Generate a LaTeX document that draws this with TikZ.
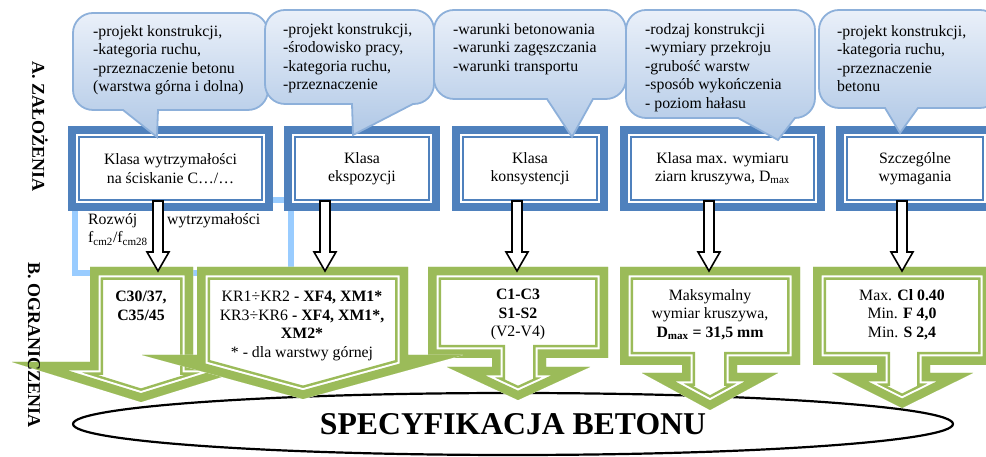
\documentclass[tikz,border=0pt]{standalone}
\usepackage{fontspec}
\setmainfont{Liberation Serif}
\usepackage{xcolor}
\usepackage{tikz}
\usetikzlibrary{positioning, calc, shapes.geometric}
\definecolor{blu}{RGB}{79, 129, 189}
\definecolor{grn}{RGB}{155, 187, 89}
\definecolor{sky}{RGB}{153, 204, 255}
\definecolor{bubtop}{RGB}{234, 240, 249}
\definecolor{bubbot}{RGB}{176, 200, 230}
\definecolor{bubline}{RGB}{141, 176, 218}
\newcommand{\bodysize}{\fontsize{15.8}{18.5}\selectfont}
% green down-arrow callout: thick outer line, white gap, thin inner line
\newcommand{\greencall}[1]{%
  \begin{scope}
    \clip #1;
    \fill[white] #1;
    \draw[grn, line width=26pt] #1;
    \draw[white, line width=21pt] #1;
    \draw[grn, line width=17pt] #1;
  \end{scope}}
% rounded speech bubble: x1, x2, bottom, top, pointer left, pointer right, tip x, tip y
\newcommand{\bubble}[8]{%
  \draw[bub] (#5,#3) -- (#1+20,#3) arc[start angle=270, end angle=180, radius=20]
    -- (#1,#4-20) arc[start angle=180, end angle=90, radius=20]
    -- (#2-20,#4) arc[start angle=90, end angle=0, radius=20]
    -- (#2,#3+20) arc[start angle=0, end angle=-90, radius=20]
    -- (#6,#3) -- (#7,#8) -- cycle;}

\begin{document}
\begin{tikzpicture}[
    x=1pt, y=1pt, font=\bodysize,
    bbox/.style={draw=blu, line width=8pt, fill=white, minimum height=77pt,
      align=center, inner sep=0pt},
    inline/.style={draw=blu, line width=2.4pt},
    bub/.style={draw=bubline, line width=1.8pt, top color=bubtop, bottom color=bubbot},
    btxt/.style={anchor=north west, align=left, inner sep=0pt},
    ctxt/.style={anchor=north, align=center, inner sep=0pt},
    barrow/.style={draw=black, line width=1.6pt, fill=white, line join=miter},
    side/.style={rotate=-90, font=\fontsize{18}{20}\selectfont\bfseries}
  ]
  \useasboundingbox (0,0) rectangle (986,457);

  % light frame behind the first class
  \draw[sky, line width=6pt] (74.5,256.5) rectangle (290.5,184);
  \node[anchor=north west, text width=172pt, align=left, inner sep=0pt] (rozw) at (88,244)
    {Rozwój\hfill wytrzymałości\\f\textsubscript{cm2}/f\textsubscript{cm28}};

  % A. classes
  \node[bbox, minimum width=197pt] (b1) at (170.5,288.5) {Klasa wytrzymałości\\na ściskanie C…/…};
  \node[bbox, minimum width=148pt, right=11pt of b1] (b2) {Klasa\\ekspozycji};
  \node[bbox, minimum width=148pt, right=12pt of b2] (b3) {Klasa\\konsystencji};
  \node[bbox, minimum width=197pt, right=12pt of b3] (b4) {Klasa max. wymiaru\\ziarn kruszywa, D\textsubscript{max}};
  \node[bbox, minimum width=150pt, right=11pt of b4] (b5) {Szczególne\\wymagania};
  \foreach \b in {b1,b2,b3,b4,b5}
    \draw[inline] ([shift={(11,-11)}]\b.north west) rectangle ([shift={(-11,11)}]\b.south east);

  % bubbles
  \bubble{73}{268}{347}{444}{123}{158}{157}{320}
  \bubble{265}{434}{353}{447}{352}{413}{353}{322}
  \bubble{434}{626}{358}{447}{547}{593}{572}{320}
  \bubble{626}{815}{339}{447}{738}{795}{778}{317}
  \bubble{819}{1000}{349}{447}{885}{918}{900}{324}
  \node[btxt] (q1) at (93,432) {-projekt konstrukcji,\\-kategoria ruchu,\\-przeznaczenie betonu\\(warstwa górna i dolna)};
  \node[btxt] (q2) at (283,434) {-projekt konstrukcji,\\-środowisko pracy,\\-kategoria ruchu,\\-przeznaczenie};
  \node[btxt] (q3) at (453,434) {-warunki betonowania\\-warunki zagęszczania\\-warunki transportu};
  \node[btxt] (q4) at (645,434) {-rodzaj konstrukcji\\-wymiary przekroju\\-grubość warstw\\-sposób wykończenia\\- poziom hałasu};
  \node[btxt] (q5) at (837,432) {-projekt konstrukcji,\\-kategoria ruchu,\\-przeznaczenie\\betonu};

  % result
  \node[draw, ellipse, line width=2.2pt, minimum width=880pt, minimum height=62pt, inner sep=0pt,
    font=\fontsize{31.7}{36}\selectfont\bfseries] (spec) at (513,33) {SPECYFIKACJA BETONU};

  % B. limits
  \greencall{(90,190) -- (193,190) -- (193,95) -- (270,95) -- (141,55) -- (12,95) -- (90,95) -- cycle}
  \greencall{(428,190) -- (608,190) -- (608,99) -- (546,99) -- (546,90) -- (590,90) -- (518,57)
    -- (447,90) -- (492,90) -- (492,99) -- (428,99) -- cycle}
  \greencall{(620,190) -- (800,190) -- (800,92) -- (737,92) -- (737,84) -- (778,84) -- (710,47)
    -- (642,84) -- (682,84) -- (682,92) -- (620,92) -- cycle}
  \greencall{(813,190) -- (991,190) -- (991,92) -- (930,92) -- (930,84) -- (973,84) -- (902,49)
    -- (832,84) -- (877,84) -- (877,92) -- (813,92) -- cycle}
  \greencall{(197,190) -- (408,190) -- (408,102) -- (463,102) -- (303,58) -- (142,102) -- (197,102) -- cycle}
  \node[ctxt, font=\bodysize\bfseries] (c1) at (141,166) {C30/37,\\C35/45};
  \node[ctxt] (c2) at (302,166) {KR1÷KR2 \textbf{- XF4, XM1*}\\KR3÷KR6 \textbf{- XF4, XM1*,}\\\textbf{XM2*}\\* - dla warstwy górnej};
  \node[ctxt] (c3) at (518,168) {\textbf{C1-C3}\\\textbf{S1-S2}\\(V2-V4)};
  \node[ctxt] (c4) at (710,168) {Maksymalny\\wymiar kruszywa,\\\textbf{D\textsubscript{max} = 31,5 mm}};
  \node[ctxt] (c5) at (902,168) {Max. \textbf{Cl 0.40}\\Min. \textbf{F 4,0}\\Min. \textbf{S 2,4}};

  % block arrows from A to B
  \foreach \i/\x in {1/158,2/325,3/517,4/709,5/902}{
    \coordinate (tip\i) at (\x,186);
    \draw[barrow] ($(b\i.south -| tip\i)+(-5,10)$) -- ($(b\i.south -| tip\i)+(5,10)$)
      -- ($(tip\i)+(5,19)$) -- ($(tip\i)+(11,19)$) -- (tip\i)
      -- ($(tip\i)+(-11,19)$) -- ($(tip\i)+(-5,19)$) -- cycle;
  }

  % side headings
  \node[side] (zal) at (40,330) {A. ZAŁOŻENIA};
  \node[side] (ogr) at (34,112) {B. OGRANICZENIA};
\end{tikzpicture}
\end{document}
